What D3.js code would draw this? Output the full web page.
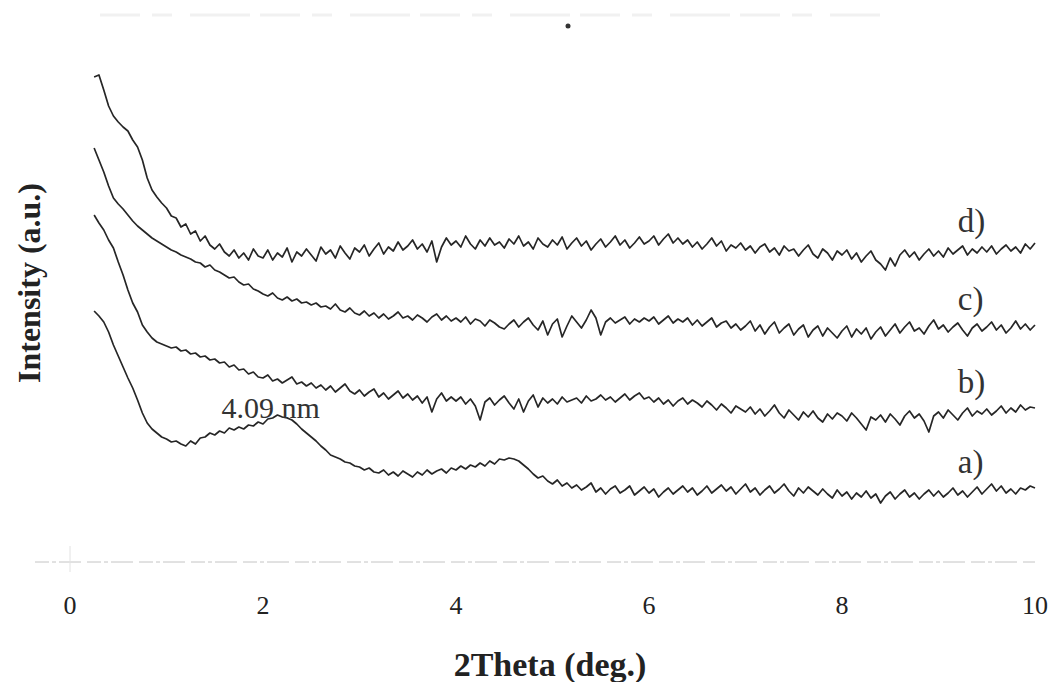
<!DOCTYPE html>
<html lang="en">
<head>
<meta charset="UTF-8">
<title>XRD 2Theta</title>
<script src="https://cdn.jsdelivr.net/npm/d3@7"></script>
<style>
  body { margin: 0; background: #fff; }
  svg { display: block; font-family: "Liberation Serif", "Times New Roman", serif; }
</style>
</head>
<body>
<svg id="chart" width="1050" height="682"></svg>
<script>
// scan grid (deg 2theta)
var thetaStart = 0.25, thetaStep = 0.05

// intensities (a.u.), stacked as in the figure
var curveA = [
  289,284,278,268,255,244,233,222,212,200,
  187,177,171,167,163,161,158,159,156,154,
  159,156,162,163,167,165,169,167,172,170,
  173,171,175,174,178,176,181,182,185,183,
  182,180,176,171,167,163,159,154,150,145,
  143,141,138,137,134,133,130,132,128,127,
  130,125,128,124,129,126,123,128,125,130,
  126,129,131,127,132,130,134,131,135,133,
  137,134,139,136,141,140,142,141,139,135,
  131,126,122,124,119,116,120,114,117,112,
  115,110,113,117,108,112,106,111,114,107,
  110,114,105,109,113,107,111,103,108,112,
  106,110,114,108,112,105,109,114,107,111,
  115,109,113,106,111,116,108,112,105,110,
  114,107,111,116,109,104,112,107,113,109,
  105,111,106,102,110,104,108,101,107,103,
  109,102,106,97,104,108,101,106,110,103,
  107,101,106,110,104,109,103,107,112,105,
  109,103,108,113,106,111,116,109,114,107,
  111,106,112,110,114,112
]
var curveB = [
  385,377,370,360,352,338,325,310,297,288,
  275,268,262,258,256,254,252,253,249,250,
  246,247,243,244,240,241,237,238,233,235,
  230,231,226,228,223,
  222,225,219,221,217,220,223,216,218,214,
  217,212,215,210,214,208,212,216,209,206,
  210,204,208,211,203,207,201,205,209,202,
  206,200,204,197,203,188,201,207,199,203,
  199,203,196,201,194,180,198,202,195,200,
  204,197,191,201,188,199,205,193,202,197,
  201,196,203,198,200,202,197,204,199,201,
  205,200,203,198,202,206,200,204,207,201,
  203,198,202,196,200,194,199,202,196,200,
  197,193,199,195,190,196,192,187,194,191,
  188,193,186,191,184,189,195,187,182,190,
  185,180,188,183,189,182,178,186,181,187,
  184,179,187,182,176,170,183,180,185,178,
  186,181,175,184,189,182,186,179,168,184,
  188,182,190,185,180,187,192,184,189,186,
  191,185,189,194,187,192,188,195,190,193,
  192
]
var curveC = [
  452,440,428,414,402,396,391,385,379,374,
  370,366,362,359,356,353,350,348,345,343,
  341,338,337,333,335,330,328,325,322,323,
  318,315,316,311,309,
  306,304,307,302,300,303,299,301,297,298,
  295,297,293,294,291,296,290,288,292,287,
  285,289,284,287,282,286,281,284,288,282,
  284,280,285,282,278,283,286,280,284,279,
  282,278,283,276,281,279,274,280,277,273,
  271,276,280,273,278,282,275,270,279,265,
  276,281,263,274,284,278,272,280,290,282,
  265,278,282,277,280,283,276,281,278,282,
  279,283,276,280,284,277,281,278,282,275,
  280,274,278,282,273,277,279,272,276,270,
  274,279,269,275,266,273,278,267,272,276,
  265,271,275,263,270,274,264,272,267,262,
  269,274,263,271,266,272,261,268,273,264,
  270,276,267,273,278,269,272,266,274,280,
  271,275,268,273,277,270,264,272,276,269,
  273,278,270,275,267,272,279,271,276,270,
  275
]
var curveD = [
  523,525,510,494,484,478,473,469,460,453,
  440,422,410,403,397,392,384,382,373,376,
  366,369,359,364,355,351,356,348,344,350,
  342,347,340,351,344,
  342,350,340,347,343,352,338,348,344,351,
  345,339,353,346,350,342,354,347,341,352,
  348,355,344,351,357,346,353,349,358,350,
  354,360,351,356,348,359,338,353,362,355,
  359,353,364,356,351,360,354,362,355,358,
  352,361,356,364,354,358,351,362,356,353,
  360,355,363,351,357,362,354,359,350,356,
  361,353,358,364,355,360,352,357,363,356,
  359,364,355,361,366,357,362,356,360,353,
  358,351,356,362,354,359,349,355,352,357,
  350,354,347,353,356,348,352,345,354,349,
  351,344,350,355,346,342,351,347,340,349,
  345,350,341,347,338,344,349,340,336,330,
  342,334,345,350,343,348,340,346,351,344,
  349,343,352,346,350,354,345,351,347,353,
  348,354,346,351,355,349,353,347,356,351,
  357
]
var seriesNames = ['a)', 'b)', 'c)', 'd)']
var xTicks = [0, 2, 4, 6, 8, 10]
var peakNote = '4.09 nm'
var peakTheta = 2.15

var svg = d3.select('#chart')

var x = d3.scaleLinear().domain([0, 10]).range([70, 1035])
var y = d3.scaleLinear().domain([0, 600]).range([600, 0])

function toPoints (vals) {
  return vals.map(function (v, i) {
    return [thetaStart + i * thetaStep, v]
  })
}

var line = d3.line()
  .x(function (d) { return x(d[0]) })
  .y(function (d) { return y(d[1]) })

var allSeries = [curveA, curveB, curveC, curveD]

// faint scanned frame remnants
svg.append('line')
  .attr('x1', 35).attr('x2', x(10))
  .attr('y1', 562).attr('y2', 562)
  .attr('stroke', '#c4c4c4').attr('stroke-width', 1)
  .attr('stroke-dasharray', '14,3,4,3,22,6')
svg.append('line')
  .attr('x1', x(0)).attr('x2', x(0))
  .attr('y1', 546).attr('y2', 572)
  .attr('stroke', '#e2e2e2').attr('stroke-width', 1)
svg.append('line')
  .attr('x1', 100).attr('x2', 880)
  .attr('y1', 15).attr('y2', 15)
  .attr('stroke', '#f1f1f1').attr('stroke-width', 3)
  .attr('stroke-dasharray', '40,12,20,18,60,10')
svg.append('circle')
  .attr('cx', 568).attr('cy', 26).attr('r', 2.5)
  .attr('fill', '#333')

// curves
svg.selectAll('path.curve')
  .data(allSeries)
  .enter().append('path')
  .attr('class', 'curve')
  .attr('d', function (s) { return line(toPoints(s)) })
  .attr('fill', 'none')
  .attr('stroke', '#262626')
  .attr('stroke-width', 1.7)
  .attr('stroke-linejoin', 'round')

// curve labels
allSeries.forEach(function (s, i) {
  var tail = d3.mean(s.slice(-20))
  svg.append('text')
    .attr('x', x(9.2))
    .attr('y', y(tail) - 18)
    .attr('font-size', 33)
    .attr('fill', '#333')
    .text(seriesNames[i])
})

// peak note on curve a
var peakIdx = Math.round((peakTheta - thetaStart) / thetaStep)
svg.append('text')
  .attr('x', x(1.57))
  .attr('y', y(curveA[peakIdx]) + 3)
  .attr('font-size', 30)
  .attr('fill', '#333')
  .text(peakNote)

// x tick labels
svg.selectAll('text.tick')
  .data(xTicks)
  .enter().append('text')
  .attr('class', 'tick')
  .attr('x', function (d) { return x(d) })
  .attr('y', 614)
  .attr('text-anchor', 'middle')
  .attr('font-size', 26)
  .attr('fill', '#222')
  .text(function (d) { return d })

// axis titles
svg.append('text')
  .attr('x', 550).attr('y', 676)
  .attr('text-anchor', 'middle')
  .attr('font-size', 34)
  .attr('font-weight', 'bold')
  .attr('fill', '#222')
  .text('2Theta (deg.)')

svg.append('text')
  .attr('transform', 'translate(40,283) rotate(-90)')
  .attr('text-anchor', 'middle')
  .attr('font-size', 32)
  .attr('font-weight', 'bold')
  .attr('fill', '#222')
  .text('Intensity (a.u.)')
</script>
</body>
</html>
